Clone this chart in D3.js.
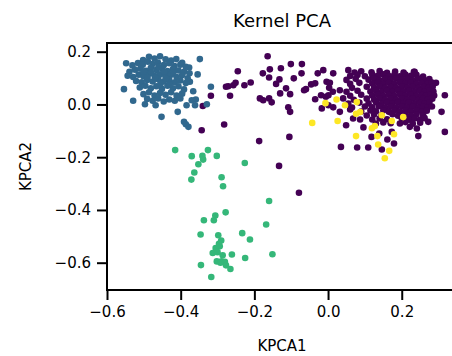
<!DOCTYPE html>
<html>
<head>
<meta charset="utf-8">
<script src="https://cdn.jsdelivr.net/npm/d3@7"></script>
<style>
  body { margin: 0; background: #fff; }
  text { font-family: "DejaVu Sans", sans-serif; fill: #000; }
</style>
</head>
<body>
<script>
var chartTitle = "Kernel PCA";
var xLabel = "KPCA1";
var yLabel = "KPCA2";
var xTicks = [-0.6, -0.4, -0.2, 0.0, 0.2];
var yTicks = [-0.6, -0.4, -0.2, 0.0, 0.2];
var classColors = ["#440154", "#31688e", "#35b779", "#fde725"];

// class 0 - scattered points
var class0Spread = [
  [-0.164,0.183],[-0.245,0.126],[-0.177,0.118],[-0.158,0.133],[-0.128,0.137],[-0.101,0.153],
  [-0.071,0.153],[-0.072,0.118],[-0.028,0.118],[-0.004,0.086],[-0.160,0.102],[-0.132,0.095],
  [-0.093,0.099],[-0.141,0.078],[-0.114,0.061],[-0.130,0.042],[-0.103,0.039],[-0.046,0.076],
  [-0.035,0.080],[-0.060,0.058],[-0.035,0.020],[-0.019,0.035],[-0.006,0.029],[0.003,0.063],
  [-0.271,0.069],[-0.257,0.073],[-0.277,0.067],[-0.251,0.082],[-0.227,0.073],[-0.210,0.083],
  [-0.266,0.033],[-0.318,0.033],[-0.340,-0.006],[-0.185,0.023],[-0.176,0.016],[-0.160,0.023],
  [-0.153,0.008],[-0.108,-0.011],[-0.103,-0.028],[-0.017,-0.015],[-0.282,-0.076],[-0.343,-0.098],
  [-0.187,-0.139],[-0.105,-0.123],[-0.133,-0.233],[-0.079,-0.335],[-0.065,0.054],[-0.013,0.130],
  [0.014,0.118],[0.005,0.082],[0.001,0.035],[0.013,0.048],[0.032,0.054],[0.041,0.023],
  [0.001,-0.003],[0.014,-0.011],[0.032,-0.028],[0.060,-0.019],[0.049,-0.079],[0.087,-0.057],
  [0.118,-0.123],[0.161,-0.133],[0.179,-0.148],[0.146,-0.171],[0.109,-0.163],[0.079,-0.163],
  [0.035,-0.161],[0.245,-0.120],[0.272,-0.066],[0.317,-0.104],[0.308,-0.028],[0.317,0.035],
  [0.293,0.082],[0.233,0.124],[0.139,-0.110],[0.096,-0.087],[0.222,-0.085],[0.241,-0.091],
  [0.195,-0.072],[0.173,-0.104],[0.068,-0.053],[0.055,0.130]
];

// class 0 - dense blob on the right
var class0Blob = [
  [0.072,0.121],[0.090,0.126],[0.118,0.122],[0.140,0.127],[0.160,0.120],[0.182,0.125],[0.205,0.121],[0.235,0.124],
  [0.060,0.108],[0.080,0.112],[0.100,0.107],[0.120,0.113],[0.135,0.109],[0.150,0.114],[0.165,0.108],[0.180,0.112],
  [0.195,0.107],[0.210,0.113],[0.225,0.109],[0.240,0.112],[0.258,0.106],
  [0.050,0.093],[0.075,0.097],[0.110,0.094],[0.125,0.098],[0.140,0.092],[0.155,0.097],[0.170,0.093],[0.185,0.099],
  [0.200,0.094],[0.215,0.097],[0.230,0.092],[0.245,0.098],[0.260,0.094],[0.275,0.096],
  [0.060,0.078],[0.085,0.082],[0.120,0.079],[0.135,0.083],[0.150,0.077],[0.165,0.082],[0.180,0.078],[0.195,0.083],
  [0.210,0.079],[0.225,0.082],[0.240,0.077],[0.255,0.081],[0.270,0.078],[0.282,0.083],
  [0.065,0.063],[0.105,0.067],[0.125,0.064],[0.140,0.068],[0.155,0.062],[0.170,0.066],[0.185,0.063],[0.200,0.068],
  [0.215,0.064],[0.230,0.067],[0.245,0.062],[0.260,0.066],[0.272,0.063],[0.284,0.067],
  [0.050,0.048],[0.080,0.052],[0.115,0.049],[0.130,0.053],[0.145,0.047],[0.160,0.052],[0.175,0.048],[0.190,0.053],
  [0.205,0.049],[0.220,0.052],[0.235,0.047],[0.250,0.051],[0.262,0.048],[0.275,0.053],[0.286,0.049],
  [0.060,0.033],[0.090,0.037],[0.120,0.034],[0.135,0.038],[0.150,0.032],[0.165,0.037],[0.180,0.033],[0.195,0.038],
  [0.210,0.034],[0.225,0.037],[0.240,0.032],[0.255,0.036],[0.266,0.033],[0.278,0.038],[0.288,0.034],
  [0.070,0.018],[0.105,0.022],[0.125,0.019],[0.140,0.023],[0.155,0.017],[0.170,0.022],[0.185,0.018],[0.200,0.023],
  [0.215,0.019],[0.230,0.022],[0.245,0.017],[0.258,0.021],[0.270,0.018],[0.283,0.022],
  [0.055,0.003],[0.085,0.007],[0.110,0.004],[0.130,0.008],[0.145,0.002],[0.160,0.007],[0.175,0.003],[0.190,0.008],
  [0.205,0.004],[0.220,0.007],[0.235,0.002],[0.250,0.006],[0.262,0.003],[0.275,0.007],
  [0.065,-0.012],[0.100,-0.008],[0.120,-0.011],[0.138,-0.007],[0.155,-0.013],[0.170,-0.008],[0.185,-0.012],[0.200,-0.007],
  [0.215,-0.011],[0.230,-0.008],[0.245,-0.013],[0.258,-0.009],[0.270,-0.012],[0.282,-0.008],
  [0.090,-0.027],[0.115,-0.023],[0.130,-0.026],[0.150,-0.022],[0.165,-0.028],[0.180,-0.023],[0.195,-0.027],[0.210,-0.022],
  [0.225,-0.026],[0.240,-0.023],[0.255,-0.028],[0.268,-0.024],
  [0.105,-0.042],[0.125,-0.038],[0.145,-0.041],[0.175,-0.037],[0.190,-0.043],[0.210,-0.038],[0.225,-0.042],[0.240,-0.037],[0.258,-0.041],
  [0.120,-0.057],[0.140,-0.053],[0.160,-0.056],[0.200,-0.052],[0.220,-0.058],[0.235,-0.053],[0.250,-0.057],[0.262,-0.052],
  [0.130,-0.072],[0.150,-0.068],[0.170,-0.071],[0.210,-0.067],[0.230,-0.073],[0.250,-0.069]
];

var class1 = [
  [-0.548,0.156],[-0.554,0.058],[-0.529,0.014],[-0.497,0.001],[-0.468,-0.003],[-0.452,-0.047],
  [-0.408,-0.028],[-0.391,-0.066],[-0.379,-0.085],[-0.348,0.172],[-0.354,0.114],[-0.318,0.067],
  [-0.329,0.001],[-0.359,0.019],[-0.366,0.050],[-0.377,0.140],[-0.375,0.086],[-0.361,-0.003],
  [-0.384,-0.003],[-0.370,0.016],[-0.386,-0.075],
  [-0.502,0.168],[-0.486,0.181],[-0.471,0.174],[-0.456,0.183],[-0.441,0.171],[-0.426,0.166],[-0.412,0.172],[-0.396,0.158],
  [-0.531,0.148],[-0.516,0.157],[-0.503,0.151],[-0.489,0.162],[-0.476,0.153],[-0.462,0.159],[-0.446,0.149],[-0.431,0.156],
  [-0.417,0.146],[-0.401,0.151],[-0.386,0.143],
  [-0.539,0.124],[-0.524,0.132],[-0.509,0.136],[-0.494,0.128],[-0.481,0.139],[-0.466,0.131],[-0.451,0.136],[-0.436,0.127],
  [-0.421,0.134],[-0.406,0.129],[-0.391,0.124],[-0.376,0.118],
  [-0.544,0.109],[-0.529,0.104],[-0.514,0.113],[-0.501,0.107],[-0.486,0.116],[-0.471,0.109],[-0.456,0.114],[-0.441,0.107],
  [-0.426,0.113],[-0.411,0.104],[-0.396,0.111],[-0.381,0.099],
  [-0.521,0.089],[-0.506,0.084],[-0.491,0.093],[-0.476,0.087],[-0.461,0.096],[-0.446,0.087],[-0.431,0.093],[-0.416,0.084],
  [-0.401,0.091],[-0.386,0.081],
  [-0.511,0.064],[-0.496,0.071],[-0.481,0.061],[-0.466,0.069],[-0.451,0.059],[-0.436,0.071],[-0.421,0.061],[-0.406,0.069],[-0.391,0.057],
  [-0.501,0.039],[-0.486,0.046],[-0.471,0.034],[-0.456,0.043],[-0.441,0.037],[-0.426,0.046],[-0.411,0.034],[-0.396,0.041],
  [-0.491,0.021],[-0.476,0.014],[-0.461,0.023],[-0.446,0.011],[-0.431,0.019],[-0.416,0.014],[-0.401,0.023],
  [-0.480,0.120],[-0.460,0.142],[-0.445,0.124],[-0.469,0.101],[-0.455,0.078],[-0.440,0.099],[-0.430,0.076],
  [-0.490,0.102],[-0.500,0.124],[-0.420,0.121]
];

var class2 = [
  [-0.415,-0.173],[-0.370,-0.196],[-0.341,-0.195],[-0.339,-0.209],[-0.352,-0.227],[-0.326,-0.173],
  [-0.302,-0.195],[-0.363,-0.258],[-0.371,-0.285],[-0.289,-0.276],[-0.285,-0.310],[-0.226,-0.222],
  [-0.160,-0.366],[-0.278,-0.409],[-0.306,-0.421],[-0.310,-0.439],[-0.337,-0.439],[-0.346,-0.493],
  [-0.298,-0.496],[-0.290,-0.516],[-0.294,-0.538],[-0.305,-0.544],[-0.313,-0.563],[-0.286,-0.572],
  [-0.261,-0.569],[-0.233,-0.488],[-0.212,-0.512],[-0.168,-0.455],[-0.225,-0.582],[-0.151,-0.568],
  [-0.302,-0.595],[-0.289,-0.595],[-0.280,-0.597],[-0.277,-0.610],[-0.265,-0.624],[-0.345,-0.609],
  [-0.317,-0.654],[-0.296,-0.528],[-0.300,-0.560],[-0.292,-0.600]
];

var class3 = [
  [-0.043,-0.070],[-0.007,0.005],[0.023,0.019],[0.046,-0.003],[0.078,0.009],[0.076,-0.035],
  [0.026,-0.063],[0.076,-0.120],[0.127,-0.082],[0.146,-0.041],[0.173,-0.063],[0.204,-0.048],
  [0.179,-0.113],[0.136,-0.152],[0.166,-0.176],[0.154,-0.204],[0.134,-0.120],[0.087,-0.029],[0.119,-0.090]
];

var outerWidth = 452;
var outerHeight = 356;
var margin = { top: 43, right: -5, bottom: 66, left: 107 };
var width = outerWidth - margin.left - margin.right;
var height = outerHeight - margin.top - margin.bottom;

var svg = d3
  .select("body")
  .append("svg")
  .attr("width", outerWidth)
  .attr("height", outerHeight);

var xScale = d3.scaleLinear().domain([-0.6, 0.35]).range([0, width]);
var yScale = d3.scaleLinear().domain([-0.7035, 0.233]).range([height, 0]);

var g = svg
  .append("g")
  .attr("transform", "translate(" + margin.left + "," + margin.top + ")");

var groups = [
  { pts: class0Spread, c: 0 },
  { pts: class0Blob, c: 0 },
  { pts: class1, c: 1 },
  { pts: class2, c: 2 },
  { pts: class3, c: 3 }
];

groups.forEach(function (grp) {
  g.append("g")
    .selectAll("circle")
    .data(grp.pts)
    .enter()
    .append("circle")
    .attr("cx", (d) => xScale(d[0]))
    .attr("cy", (d) => yScale(d[1]))
    .attr("r", 3.3)
    .attr("fill", classColors[grp.c]);
});

// frame
g.append("rect")
  .attr("x", 0)
  .attr("y", 0)
  .attr("width", width)
  .attr("height", height)
  .attr("fill", "none")
  .attr("stroke", "#000")
  .attr("stroke-width", 2);

var xAxis = d3.axisBottom(xScale).tickValues(xTicks).tickSize(10).tickPadding(6)
  .tickFormat((d) => d3.format(".1f")(d).replace("-", "\u2212"));
var yAxis = d3.axisLeft(yScale).tickValues(yTicks).tickSize(10).tickPadding(6)
  .tickFormat((d) => d3.format(".1f")(d).replace("-", "\u2212"));

var gx = g.append("g").attr("transform", "translate(0," + height + ")").call(xAxis);
var gy = g.append("g").call(yAxis);

[gx, gy].forEach(function (ax) {
  ax.select(".domain").remove();
  ax.selectAll(".tick line").attr("stroke", "#000").attr("stroke-width", 2);
  ax.selectAll(".tick text")
    .attr("font-size", 15)
    .attr("font-family", "DejaVu Sans")
    .attr("fill", "#000");
});

svg.append("text")
  .attr("x", 282)
  .attr("y", 27)
  .attr("text-anchor", "middle")
  .attr("font-size", 18)
  .text(chartTitle);

svg.append("text")
  .attr("x", 282)
  .attr("y", 351)
  .attr("text-anchor", "middle")
  .attr("font-size", 15)
  .text(xLabel);

svg.append("text")
  .attr("transform", "translate(31,166.5) rotate(-90)")
  .attr("text-anchor", "middle")
  .attr("font-size", 15)
  .text(yLabel);
</script>
</body>
</html>
